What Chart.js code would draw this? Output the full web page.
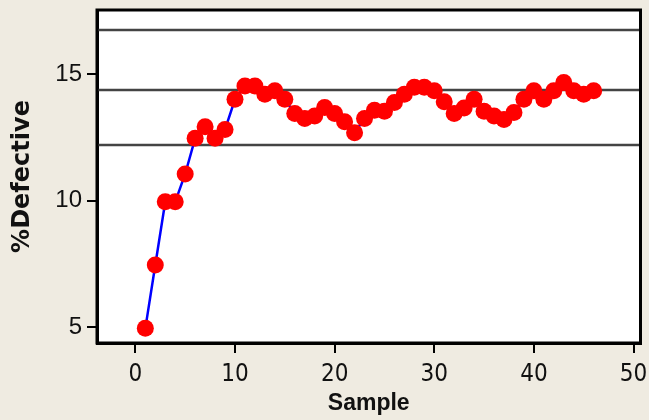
<!DOCTYPE html>
<html>
<head>
<meta charset="utf-8">
<script src="https://cdn.jsdelivr.net/npm/chart.js@4"></script>
<style>
  html, body { margin: 0; padding: 0; background: #efebe1; }
  #wrap { width: 649px; height: 420px; }
</style>
</head>
<body>
<div id="wrap"><canvas id="pChart" width="649" height="420"></canvas></div>
<script>
const samples = [1, 2, 3, 4, 5, 6, 7, 8, 9, 10, 11, 12, 13, 14, 15, 16, 17, 18, 19, 20, 21, 22, 23,
  24, 25, 26, 27, 28, 29, 30, 31, 32, 33, 34, 35, 36, 37, 38, 39, 40, 41, 42, 43, 44, 45, 46];
const pctDefective = [4.95, 7.45, 9.95, 9.95, 11.05, 12.46, 12.92, 12.46, 12.81, 14.0,
  14.53, 14.53, 14.2, 14.34, 14.0, 13.44, 13.24, 13.34, 13.68, 13.44,
  13.11, 12.68, 13.24, 13.57, 13.53, 13.87, 14.2, 14.48, 14.48, 14.34,
  13.9, 13.44, 13.66, 14.0, 13.53, 13.34, 13.2, 13.48, 14.0, 14.34,
  14.0, 14.34, 14.66, 14.34, 14.2, 14.34];
// upper limit, centre line, lower limit
const limits = [16.74, 14.37, 12.19];
const xTicks = [0, 10, 20, 30, 40, 50];
const yTicks = [5, 10, 15];
const xRange = [-3.85, 50.7];
const yRange = [4.37, 17.53];

const points = samples.map((s, i) => ({ x: s, y: pctDefective[i] }));

const limitSets = limits.map(v => ({
  data: [{ x: xRange[0], y: v }, { x: xRange[1], y: v }],
  borderColor: '#444444',
  borderWidth: 2.5,
  pointRadius: 0,
  order: 2
}));

const frame = {
  id: 'frame',
  beforeDraw(chart) {
    const { ctx, chartArea: a } = chart;
    ctx.save();
    ctx.fillStyle = '#efebe1';
    ctx.fillRect(0, 0, chart.width, chart.height);
    ctx.fillStyle = '#ffffff';
    ctx.fillRect(a.left, a.top, a.right - a.left, a.bottom - a.top);
    ctx.restore();
  },
  afterDraw(chart) {
    const { ctx, chartArea: a } = chart;
    ctx.save();
    ctx.strokeStyle = '#000000';
    ctx.lineWidth = 3;
    ctx.strokeRect(a.left, a.top, a.right - a.left, a.bottom - a.top);
    ctx.restore();
  }
};

const tickFontX = { family: "'Liberation Sans Narrow', 'DejaVu Sans Condensed', 'Liberation Sans', sans-serif", size: 24 };
const tickFontY = { family: "'Liberation Sans', sans-serif", size: 24 };

new Chart(document.getElementById('pChart'), {
  type: 'line',
  data: {
    datasets: [
      {
        data: points,
        borderColor: '#0000ff',
        borderWidth: 2.5,
        pointRadius: 8.5,
        pointHoverRadius: 8.5,
        pointBackgroundColor: '#ff0000',
        pointBorderColor: '#ff0000',
        pointBorderWidth: 0,
        order: 1
      },
      ...limitSets
    ]
  },
  options: {
    responsive: false,
    animation: false,
    layout: { padding: { left: 8, right: 6, top: 10, bottom: 3 } },
    plugins: { legend: { display: false }, tooltip: { enabled: false } },
    scales: {
      x: {
        type: 'linear',
        min: xRange[0],
        max: xRange[1],
        afterBuildTicks: s => { s.ticks = xTicks.map(v => ({ value: v })); },
        afterFit: s => { s.height = 74; s.paddingLeft = 0; s.paddingRight = 0; },
        grid: { display: true, drawOnChartArea: false, tickLength: 10, color: '#000', lineWidth: 2 },
        border: { display: true, color: '#000', width: 3 },
        ticks: { font: tickFontX, color: '#111', padding: 7, maxRotation: 0 },
        title: {
          display: true,
          text: 'Sample',
          font: { family: "'Liberation Sans', sans-serif", size: 23, weight: 'bold' },
          color: '#111',
          padding: { top: 0, bottom: 0 }
        }
      },
      y: {
        min: yRange[0],
        max: yRange[1],
        afterBuildTicks: s => { s.ticks = yTicks.map(v => ({ value: v })); },
        afterFit: s => { s.width = 89; s.paddingTop = 0; s.paddingBottom = 0; },
        grid: { display: true, drawOnChartArea: false, tickLength: 10, color: '#000', lineWidth: 2 },
        border: { display: true, color: '#000', width: 3 },
        ticks: { font: tickFontY, color: '#111', padding: 5 },
        title: {
          display: true,
          text: '%Defective',
          font: { family: "'DejaVu Sans', sans-serif", size: 24, weight: 'bold' },
          color: '#111',
          padding: { top: 0, bottom: 0 }
        }
      }
    }
  },
  plugins: [frame]
});
</script>
</body>
</html>
